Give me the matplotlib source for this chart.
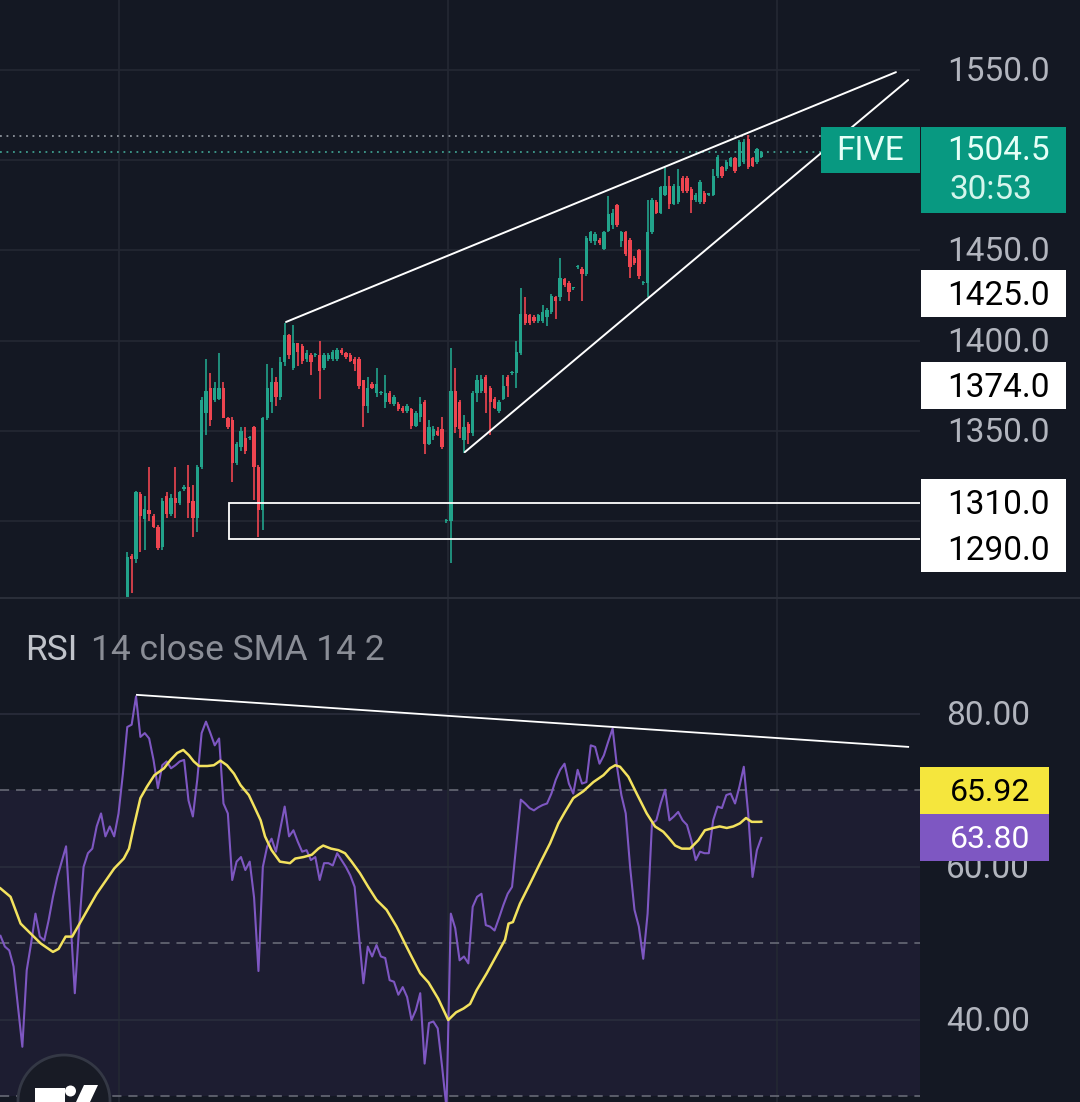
import matplotlib
matplotlib.use("Agg")
import matplotlib.pyplot as plt
from matplotlib.patches import Rectangle, Circle, Polygon
from matplotlib.lines import Line2D

plt.rcParams["font.family"] = ["Roboto", "DejaVu Sans"]

# --- candles (first candle sits on bar 29) ---
first_candle_bar = 29
opens = [1250, 1281, 1279, 1315, 1301, 1306, 1303, 1297, 1286, 1314,
         1304, 1313, 1310, 1318, 1319, 1311, 1302, 1330, 1360, 1374,
         1367, 1368, 1374, 1357, 1356, 1332, 1341, 1346, 1346, 1352,
         1330, 1306, 1357, 1366, 1377, 1369, 1388, 1403, 1385, 1399,
         1397, 1390, 1392, 1392, 1392, 1385, 1390, 1390, 1390, 1395,
         1393, 1392, 1390, 1390, 1378, 1364, 1376, 1371, 1371, 1366,
         1371, 1365, 1365, 1363, 1361, 1362, 1353, 1358, 1366, 1343,
         1347, 1350, 1351, 1300, 1300, 1372, 1366, 1345, 1354, 1349,
         1371, 1372, 1380, 1374, 1368, 1361, 1368, 1380, 1382, 1382,
         1393, 1415, 1414, 1413, 1411, 1411, 1413, 1416, 1424, 1424,
         1434, 1432, 1429, 1441, 1440, 1437, 1455, 1455, 1456, 1451,
         1461, 1464, 1475, 1455, 1460, 1456, 1446, 1450, 1432, 1432,
         1460, 1477, 1471, 1481, 1486, 1476, 1477, 1490, 1490, 1484,
         1478, 1477, 1482, 1481, 1481, 1491, 1496, 1495, 1497, 1501,
         1497, 1499, 1512, 1501, 1499, 1502]
highs = [1283, 1282, 1317, 1316, 1314, 1330, 1304, 1298, 1313, 1316,
         1315, 1330, 1317, 1320, 1331, 1320, 1331, 1369, 1390, 1382,
         1377, 1393, 1377, 1358, 1358, 1344, 1352, 1352, 1347, 1353,
         1331, 1358, 1387, 1385, 1380, 1391, 1410, 1404, 1409, 1399,
         1398, 1395, 1393, 1393, 1400, 1393, 1393, 1395, 1396, 1396,
         1394, 1393, 1391, 1391, 1378, 1380, 1377, 1385, 1372, 1381,
         1372, 1370, 1366, 1364, 1365, 1363, 1361, 1369, 1367, 1356,
         1353, 1352, 1358, 1301, 1396, 1385, 1367, 1359, 1355, 1372,
         1381, 1381, 1381, 1375, 1369, 1367, 1381, 1381, 1383, 1400,
         1429, 1424, 1415, 1414, 1415, 1420, 1418, 1426, 1425, 1446,
         1435, 1433, 1430, 1442, 1441, 1458, 1461, 1460, 1457, 1461,
         1480, 1473, 1476, 1461, 1461, 1457, 1447, 1451, 1433, 1478,
         1479, 1478, 1486, 1497, 1491, 1487, 1495, 1491, 1491, 1485,
         1482, 1489, 1483, 1482, 1495, 1503, 1497, 1500, 1502, 1502,
         1511, 1512, 1514, 1502, 1507, 1505]
lows = [1245, 1260, 1277, 1283, 1284, 1300, 1296, 1284, 1284, 1302,
        1303, 1302, 1309, 1317, 1302, 1291, 1294, 1329, 1348, 1353,
        1366, 1367, 1357, 1351, 1322, 1331, 1339, 1337, 1345, 1312,
        1291, 1295, 1356, 1360, 1364, 1367, 1386, 1390, 1384, 1386,
        1387, 1388, 1381, 1391, 1368, 1384, 1389, 1389, 1389, 1392,
        1390, 1388, 1383, 1373, 1352, 1360, 1373, 1369, 1370, 1363,
        1365, 1364, 1361, 1360, 1360, 1351, 1352, 1355, 1337, 1342,
        1345, 1347, 1340, 1299, 1277, 1349, 1346, 1338, 1343, 1347,
        1366, 1371, 1360, 1348, 1362, 1360, 1367, 1369, 1381, 1374,
        1392, 1409, 1409, 1410, 1410, 1410, 1408, 1415, 1412, 1422,
        1430, 1422, 1428, 1440, 1422, 1436, 1454, 1453, 1453, 1450,
        1460, 1462, 1463, 1452, 1447, 1435, 1442, 1434, 1431, 1424,
        1459, 1470, 1470, 1480, 1473, 1475, 1476, 1482, 1482, 1471,
        1477, 1476, 1476, 1480, 1480, 1490, 1490, 1494, 1496, 1493,
        1496, 1498, 1495, 1496, 1498, 1501]
closes = [1280, 1279, 1316, 1303, 1307, 1304, 1297, 1285, 1311, 1304,
          1313, 1310, 1316, 1319, 1310, 1302, 1330, 1367, 1372, 1356,
          1374, 1374, 1357, 1352, 1332, 1343, 1350, 1339, 1346, 1330,
          1306, 1357, 1374, 1377, 1369, 1388, 1403, 1392, 1399, 1394,
          1389, 1393, 1388, 1392, 1383, 1392, 1392, 1394, 1395, 1393,
          1391, 1389, 1387, 1375, 1364, 1374, 1374, 1376, 1371, 1371,
          1366, 1369, 1362, 1361, 1364, 1353, 1360, 1365, 1343, 1352,
          1351, 1348, 1341, 1300, 1372, 1352, 1351, 1352, 1349, 1371,
          1378, 1379, 1371, 1366, 1363, 1366, 1375, 1375, 1382, 1394,
          1415, 1410, 1410, 1411, 1414, 1416, 1417, 1425, 1422, 1435,
          1431, 1427, 1429, 1441, 1437, 1457, 1460, 1459, 1454, 1460,
          1470, 1471, 1464, 1460, 1448, 1441, 1443, 1436, 1432, 1460,
          1478, 1471, 1485, 1486, 1476, 1486, 1486, 1483, 1483, 1478,
          1481, 1488, 1477, 1481, 1491, 1502, 1491, 1499, 1501, 1494,
          1510, 1510, 1496, 1497, 1506, 1504.5]

# --- RSI 14 (one value per bar, bar 0..174) ---
rsi = [51, 49.6, 49.1, 47, 41.7, 36.5, 46.5, 50, 53.9, 50.9,
       50.4, 53, 56.1, 58.7, 60.7, 62.7, 53, 43.5, 52.2, 60,
       61.8, 62.4, 65.3, 67, 64, 65.3, 64, 67, 72.2, 78.3,
       78.6, 82.3, 77, 77.5, 76.8, 74, 70.3, 73.3, 73.8, 72.9,
       73.3, 73.8, 74, 68.7, 66.6, 71.4, 77.5, 79, 77.5, 75.9,
       76.8, 68.3, 67, 58.3, 60.7, 61.3, 59.6, 60.7, 56, 46.4,
       60, 62.7, 63.7, 62, 65, 67.9, 64, 64.8, 63.3, 62,
       62.2, 60.9, 61.3, 58.3, 60.5, 60.5, 60.2, 61.8, 60.9, 60,
       58.9, 57.4, 50.9, 44.8, 49.6, 48.3, 49.8, 48.3, 48.1, 45.2,
       45, 43.3, 44.3, 43, 40, 41.3, 43.5, 34.3, 39.6, 39.8,
       38.9, 33.9, 28.5, 53.9, 52, 47.8, 48.3, 47.4, 54.8, 56.1,
       56.5, 52.4, 52.2, 51.7, 53.3, 55, 56.5, 57.4, 63.1, 68.8,
       68.3, 67.7, 67.4, 67.8, 68.1, 68.3, 69.6, 71.4, 72.7, 73.5,
       70.9, 69.6, 72.7, 70.9, 71.1, 75.9, 75.7, 73.5, 74.6, 76.4,
       78.1, 73.1, 69.4, 67, 60, 54.4, 52.2, 48, 53.9, 65.7,
       66.1, 68.3, 70.1, 66.1, 66.6, 67.2, 66.1, 65.5, 63.5, 60.9,
       62, 61.8, 61.8, 66.1, 67.9, 67.7, 69.4, 69.6, 68.3, 70.5,
       73.1, 67, 58.7, 62.2, 63.8]

# --- SMA 14 of RSI, read at these bar positions ---
sma_bars = [0, 2.3, 4.6, 6.9, 9.2, 12, 13.3, 14.9, 16.4, 19,
            22, 26, 28.2, 29.4, 30.5, 32, 33.5, 35.2, 37.4, 38.9,
            40.4, 41.8, 43.1, 44.2, 45.4, 47.3, 48.8, 50.3, 51.8, 53.4,
            54.9, 56.8, 58.2, 59.5, 60.5, 62, 63.9, 66.2, 67.4, 69.3,
            71.2, 72.7, 73.8, 75.6, 77.3, 78.8, 80.3, 82.2, 84.1, 86,
            88.3, 90.6, 92.5, 94, 96, 97.9, 100.1, 102.4, 104.2, 105.9,
            107.4, 108.9, 111.2, 113.5, 115.4, 116.2, 117.2, 118.8, 121, 123.4,
            125.7, 127.6, 129.1, 131, 133.3, 135.6, 137.9, 139.4, 140.6, 141.7,
            143.6, 145.5, 147.8, 149.7, 151.6, 152.7, 154.3, 155.8, 157.7, 159.6,
            161.1, 163, 164.5, 166.1, 167.6, 169.1, 170.5, 171.8, 173.6, 174]
sma_vals = [57.2, 56.1, 52.6, 51.3, 50, 48.9, 49.3, 50.9, 50.9, 53.5,
            56.5, 59.8, 61.1, 62.4, 65.3, 69, 70.5, 72, 72.9, 74,
            74.9, 75.3, 74.6, 73.8, 73.2, 73.2, 73.3, 73.9, 73.3, 72.2,
            70.7, 69.4, 67.7, 66.1, 64, 62.2, 60.7, 60.5, 61.1, 61.3,
            61.6, 62.4, 62.8, 62.4, 62.2, 61.8, 60.7, 59.2, 57.4, 55.7,
            54.4, 52.2, 50, 48.3, 46.1, 44.9, 42.8, 40, 41, 41.5,
            42.1, 43.9, 46.1, 48.5, 50.5, 52.6, 52.8, 55.2, 57.7, 60.5,
            63.1, 65.7, 67.2, 69, 69.9, 71.1, 72, 72.9, 73.3, 73.1,
            71.8, 69.6, 67, 65.3, 64.6, 63.9, 62.8, 62.4, 62.4, 63.5,
            64.8, 65.1, 65.3, 65.1, 65.3, 65.7, 66.4, 65.9, 65.9, 65.92]

# --- drawings ---
upper_trend = ([65.3, 204.8], [1410.4, 1548.8])
lower_trend = ([106.2, 207.6], [1338.3, 1544.5])
rsi_trend = ([31.2, 207.6], [82.5, 75.7])
zone_start, zone_top, zone_bottom = 52.3, 1310, 1290
last_price, day_high = 1504.5, 1513.5
rsi_last, sma_last = 63.80, 65.92
price_grid = [1550, 1500, 1450, 1400, 1350, 1300]
price_labels = [1550, 1450, 1400, 1350]  # 1500 / 1300 sit under the tags
rsi_ticks = [80, 60, 40]
time_grid = [27.1, 102.4, 177.6]

BG = "#141823"
GRID = "#242833"
UP, DOWN = "#22a38b", "#ee4550"
FIG_W, FIG_H, PANEL_W = 1080, 1102, 920

fig = plt.figure(figsize=(FIG_W / 100, FIG_H / 100), dpi=100, facecolor=BG)
ax = fig.add_axes([0, 1 - 597 / FIG_H, PANEL_W / FIG_W, 597 / FIG_H])
rx = fig.add_axes([0, 0, PANEL_W / FIG_W, 503 / FIG_H])
for a in (ax, rx):
    a.set_facecolor(BG)
    a.set_xlim(-0.11, 210.3)
    a.set_xticks([])
    a.set_yticks([])
    for s in a.spines.values():
        s.set_visible(False)
ax.set_ylim(1258.03, 1588.78)
rx.set_ylim(29.28, 95.03)

for t in time_grid:
    ax.axvline(t, color=GRID, lw=1.2, zorder=0)
for p in price_grid:
    ax.axhline(p, color=GRID, lw=1.2, zorder=0)

# candles
n = len(opens)
xs = [first_candle_bar + i for i in range(n)]
for x, o, h, l, c in zip(xs, opens, highs, lows, closes):
    col = UP if c >= o else DOWN
    ax.vlines(x, l, h, color=col, lw=1.2, zorder=3)
    body = max(abs(c - o), 0.6)
    ax.bar(x, body, bottom=min(o, c), width=0.76, color=col, lw=0, zorder=3)

# trend lines and zone
ax.plot(*upper_trend, color="white", lw=1.4, zorder=4, solid_capstyle="round")
ax.plot(*lower_trend, color="white", lw=1.4, zorder=4, solid_capstyle="round")
ax.add_patch(Rectangle((zone_start, zone_bottom), 220 - zone_start, zone_top - zone_bottom,
                       fill=False, ec="white", lw=1.3, zorder=4))
ax.axhline(day_high, color="#8e949c", lw=1.3, ls=(0, (1, 2.6)), zorder=2)
ax.axhline(last_price, color="#3f9e8e", lw=1.3, ls=(0, (1, 2.6)), zorder=2)

# RSI panel
rx.axhspan(30, 70, color="#1d1d31", lw=0, zorder=0)
for t in time_grid:
    rx.axvline(t, color=GRID, lw=1.2, zorder=0.5)
for v in rsi_ticks:
    rx.axhline(v, color="#2a2d3c", lw=1.2, zorder=0.6)
for v in (70, 50, 30):
    rx.axhline(v, color="#6d707c", lw=1.1, ls=(0, (6, 4.5)), zorder=0.7)
rx.plot(range(len(rsi)), rsi, color="#7e57c2", lw=1.5, zorder=3)
rx.plot(sma_bars, sma_vals, color="#f3e25e", lw=1.8, zorder=4)
rx.plot(*rsi_trend, color="white", lw=1.3, zorder=5)

fig.add_artist(Line2D([0, 1], [1 - 598 / FIG_H] * 2, color="#2a2e39", lw=1.5))
fig.text(25 / FIG_W, 1 - 650 / FIG_H, "RSI", color="#c0c3ca", fontsize=25.5, va="center")
fig.text(91 / FIG_W, 1 - 650 / FIG_H, "14 close SMA 14 2", color="#8a8d96",
         fontsize=25.5, va="center")


def units_per_px(a):
    lo, hi = a.get_ylim()
    return (hi - lo) / (a.get_position().height * FIG_H)


def box(a, value, x0, x1, top, bottom, fc, z=10):
    u = units_per_px(a)
    a.add_patch(Rectangle((x0 / PANEL_W, value - bottom * u), (x1 - x0) / PANEL_W,
                          (bottom - top) * u, transform=a.get_yaxis_transform(),
                          fc=fc, ec="none", clip_on=False, zorder=z))


def label(a, value, text, x, color, size=24, shift=0, ha="right", z=11):
    # va="center" sits ~2 px high for these digits
    u = units_per_px(a)
    a.text(x / PANEL_W, value - (shift + 2) * u, text, transform=a.get_yaxis_transform(),
           color=color, fontsize=size, ha=ha, va="center", clip_on=False, zorder=z)


for p in price_labels:
    label(ax, p, f"{p:.1f}", 1050, "#b2b5be", z=5)
for v in rsi_ticks:
    label(rx, v, f"{v:.2f}", 1030, "#b2b5be", z=5)

# last price tag
box(ax, last_price, 821, 920, -25, 21, "#089981")
box(ax, last_price, 921, 1066, -25, 61, "#089981")
label(ax, last_price, "FIVE", 870, "#e6fff7", ha="center", shift=-3)
label(ax, last_price, f"{last_price:.1f}", 1050, "#e6fff7", shift=-3)
label(ax, last_price, "30:53", 950, "#d4f5ec", ha="left", shift=36)

# drawing price tags
for val, shift in ((1425, -1.5), (1374, -2), (1310, 0), (1290, 10)):
    box(ax, val, 921, 1066, shift - 24, shift + 23, "white")
    label(ax, val, f"{val:.1f}", 1050, "black", shift=shift)

# RSI tags (stacked so they do not overlap)
u_r = units_per_px(rx)
rsi_tag = rsi_last
sma_tag = rsi_last + 47 * u_r
box(rx, sma_tag, 920, 1049, -23.5, 23.5, "#f5e63d")
label(rx, sma_tag, f"{sma_last:.2f}", 1030, "black", size=23)
box(rx, rsi_tag, 920, 1049, -23.5, 23.5, "#7e57c2")
label(rx, rsi_tag, f"{rsi_last:.2f}", 1030, "white", size=23)

# TradingView badge, bottom left
tr = fig.dpi_scale_trans
fig.add_artist(Circle((0.64, 0.01), 0.46, transform=tr, fc="#181b25", ec="#343845", lw=2))
fig.add_artist(Rectangle((0.35, 0.0), 0.30, 0.14, transform=tr, fc="white", ec="none"))
fig.add_artist(Circle((0.705, 0.11), 0.055, transform=tr, fc="white", ec="none"))
fig.add_artist(Polygon([(0.76, 0.0), (0.84, 0.17), (0.98, 0.17), (0.90, 0.0)],
                       closed=True, transform=tr, fc="white", ec="none"))

fig.savefig("out.png", dpi=100, facecolor=BG)
